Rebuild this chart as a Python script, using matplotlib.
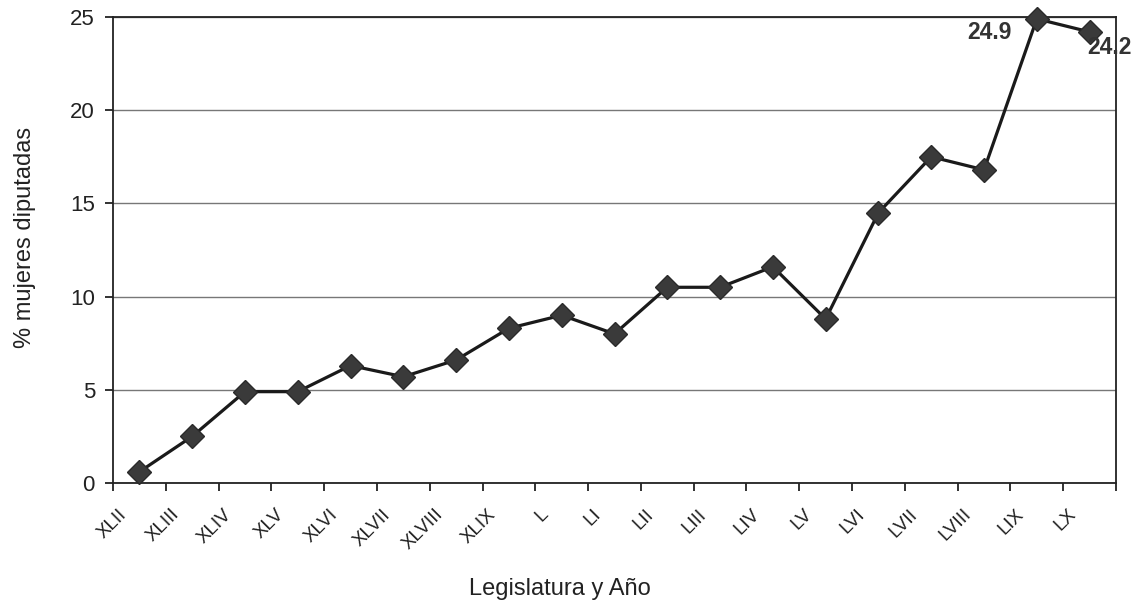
import matplotlib
matplotlib.use("Agg")
import matplotlib.pyplot as plt
import numpy as np

legislaturas = ["XLII", "XLIII", "XLIV", "XLV", "XLVI", "XLVII", "XLVIII", "XLIX",
                "L", "LI", "LII", "LIII", "LIV", "LV", "LVI", "LVII", "LVIII", "LIX", "LX"]
porcentaje = [0.6, 2.5, 4.9, 4.9, 6.3, 5.7, 6.6, 8.3, 9.0, 8.0, 10.5, 10.5, 11.6,
              8.8, 14.5, 17.5, 16.8, 24.9, 24.2]
y_ticks = [0, 5, 10, 15, 20, 25]

plt.rcParams['font.family'] = ['Liberation Sans', 'DejaVu Sans']

fig = plt.figure(figsize=(11.4, 6.04), dpi=100)
ax = fig.add_axes([113 / 1140, 1 - 483 / 604, (1116 - 113) / 1140, (483 - 17) / 604])

n = len(legislaturas)
x = np.arange(n) + 0.5
ax.plot(x, porcentaje, color="#1a1a1a", lw=2.3, marker="D", markersize=12.5,
        markerfacecolor="#3a3a3a", markeredgecolor="#2a2a2a", zorder=3, clip_on=False)

ax.set_xlim(0, n)
ax.set_ylim(0, 25)
ax.set_yticks(y_ticks)
ax.set_yticklabels([str(v) for v in y_ticks], fontsize=16, color="#222222")
ax.yaxis.grid(True, color="#777777", lw=1)
ax.set_axisbelow(True)

# category boundaries carry the tick marks; names sit between them
ax.set_xticks(np.arange(n + 1))
ax.set_xticklabels([])
ax.tick_params(axis="x", direction="out", length=6, width=1.3, color="#222222")
ax.tick_params(axis="y", direction="out", length=6, width=1.3, color="#222222", pad=7)
for i, lab in enumerate(legislaturas):
    ax.text(x[i] - 0.3, -1.55, lab, rotation=45, ha="right", va="center",
            rotation_mode="anchor", fontsize=13.5, color="#222222")

for s in ax.spines.values():
    s.set_color("#222222")
    s.set_linewidth(1.3)

ax.annotate(f"{porcentaje[17]}", (x[17], porcentaje[17]), xytext=(-18, -10),
            textcoords="offset points", ha="right", va="center", fontsize=16.5,
            fontweight="bold", color="#333333")
ax.annotate(f"{porcentaje[18]}", (x[18], porcentaje[18]), xytext=(14, -11.5),
            textcoords="offset points", ha="center", va="center", fontsize=16.5,
            fontweight="bold", color="#333333", annotation_clip=False)

fig.text(25 / 1140, 1 - 237 / 604, "% mujeres diputadas", rotation=90, ha="center",
         va="center", fontsize=17, color="#222222")
fig.text(560 / 1140, 1 - 589 / 604, "Legislatura y Año", ha="center", va="center",
         fontsize=17, color="#222222")

fig.savefig("out.png", dpi=100)
